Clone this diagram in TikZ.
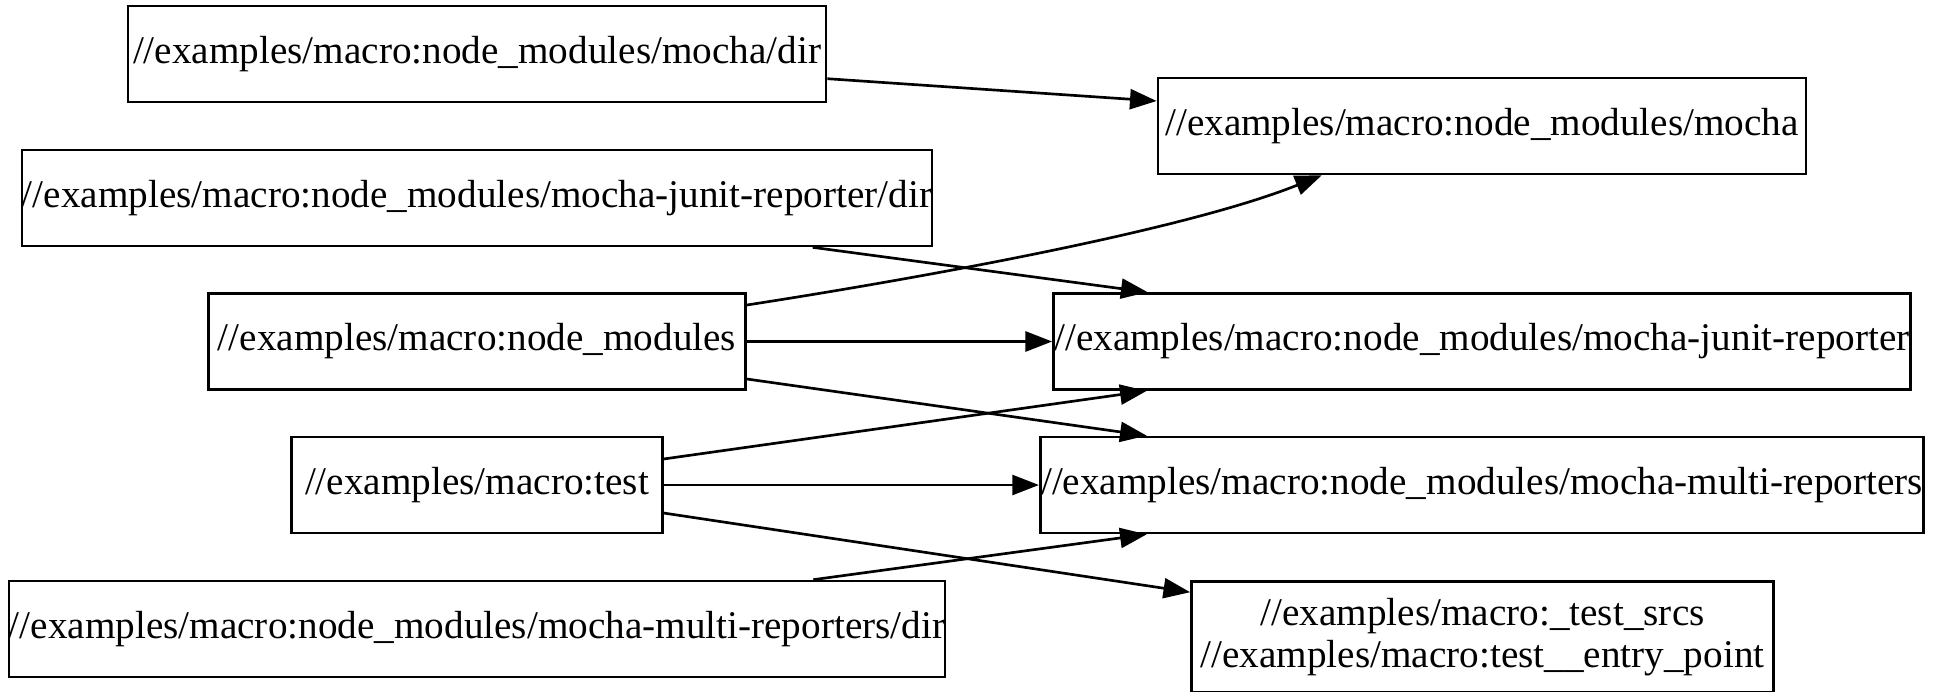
\documentclass[tikz,border=0pt]{standalone}
\usepackage{fontspec}
\setmainfont{Liberation Serif}
\usetikzlibrary{arrows.meta,calc}
\begin{document}
\begin{tikzpicture}[x=0.375pt,y=-0.375pt,
  box/.style={draw,line width=1pt,inner sep=0pt,minimum height=36pt,
    font=\fontsize{14.7}{16}\selectfont,anchor=center},
  dep/.style={line width=1pt,-{Triangle[length=10pt,width=7.5pt]}}]
\useasboundingbox (0,0) rectangle (1933,691);

% left column: sources
\node[box,minimum width=261.75pt] (A) at (477,54) {//examples/macro:node\_modules/mocha/dir};
\node[box,minimum width=341.25pt] (B) at (477,198) {//examples/macro:node\_modules/mocha-junit-reporter/dir};
\node[box,minimum width=201.4pt] (C) at (477,341.5) {//examples/macro:node\_modules};
\node[box,minimum width=138.9pt] (D) at (477,485) {//examples/macro:test};
\node[box,minimum width=351pt] (E) at (477,629) {//examples/macro:node\_modules/mocha-multi-reporters/dir};

% right column: targets
\node[box,minimum width=243pt] (F) at (1482,126) {//examples/macro:node\_modules/mocha};
\node[box,minimum width=321.4pt] (G) at (1482,341.5) {//examples/macro:node\_modules/mocha-junit-reporter};
\node[box,minimum width=331.3pt] (H) at (1482,485) {//examples/macro:node\_modules/mocha-multi-reporters};
\node[box,minimum width=218.25pt,minimum height=41.6pt,align=center] (I) at (1482.5,637)
  {//examples/macro:\_test\_srcs\\//examples/macro:test\_\_entry\_point};

% dependencies
\draw[dep] ($(A.east)+(0,24.7)$) -- ($(F.west)+(0,-25)$);
\draw[dep] ($(C.east)+(0,-36.5)$) .. controls ($(C.east)+(120,-55)$) and ($(F.south)+(-310,60)$) .. ($(F.south)+(-160.3,0)$);
\draw[dep] ($(B.south)+(335.7,0)$) -- ($(G.north)+(-334.4,0)$);
\draw[dep] (C.east) -- (G.west);
\draw[dep] ($(C.east)+(0,37.5)$) -- ($(H.north)+(-335.3,0)$);
\draw[dep] ($(D.east)+(0,-26)$) -- ($(G.south)+(-335.3,0)$);
\draw[dep] (D.east) -- (H.west);
\draw[dep] ($(D.east)+(0,28)$) -- ($(I.north west)+(0,12)$);
\draw[dep] ($(E.north)+(336.3,0)$) -- ($(H.south)+(-335.3,0)$);
\end{tikzpicture}
\end{document}
